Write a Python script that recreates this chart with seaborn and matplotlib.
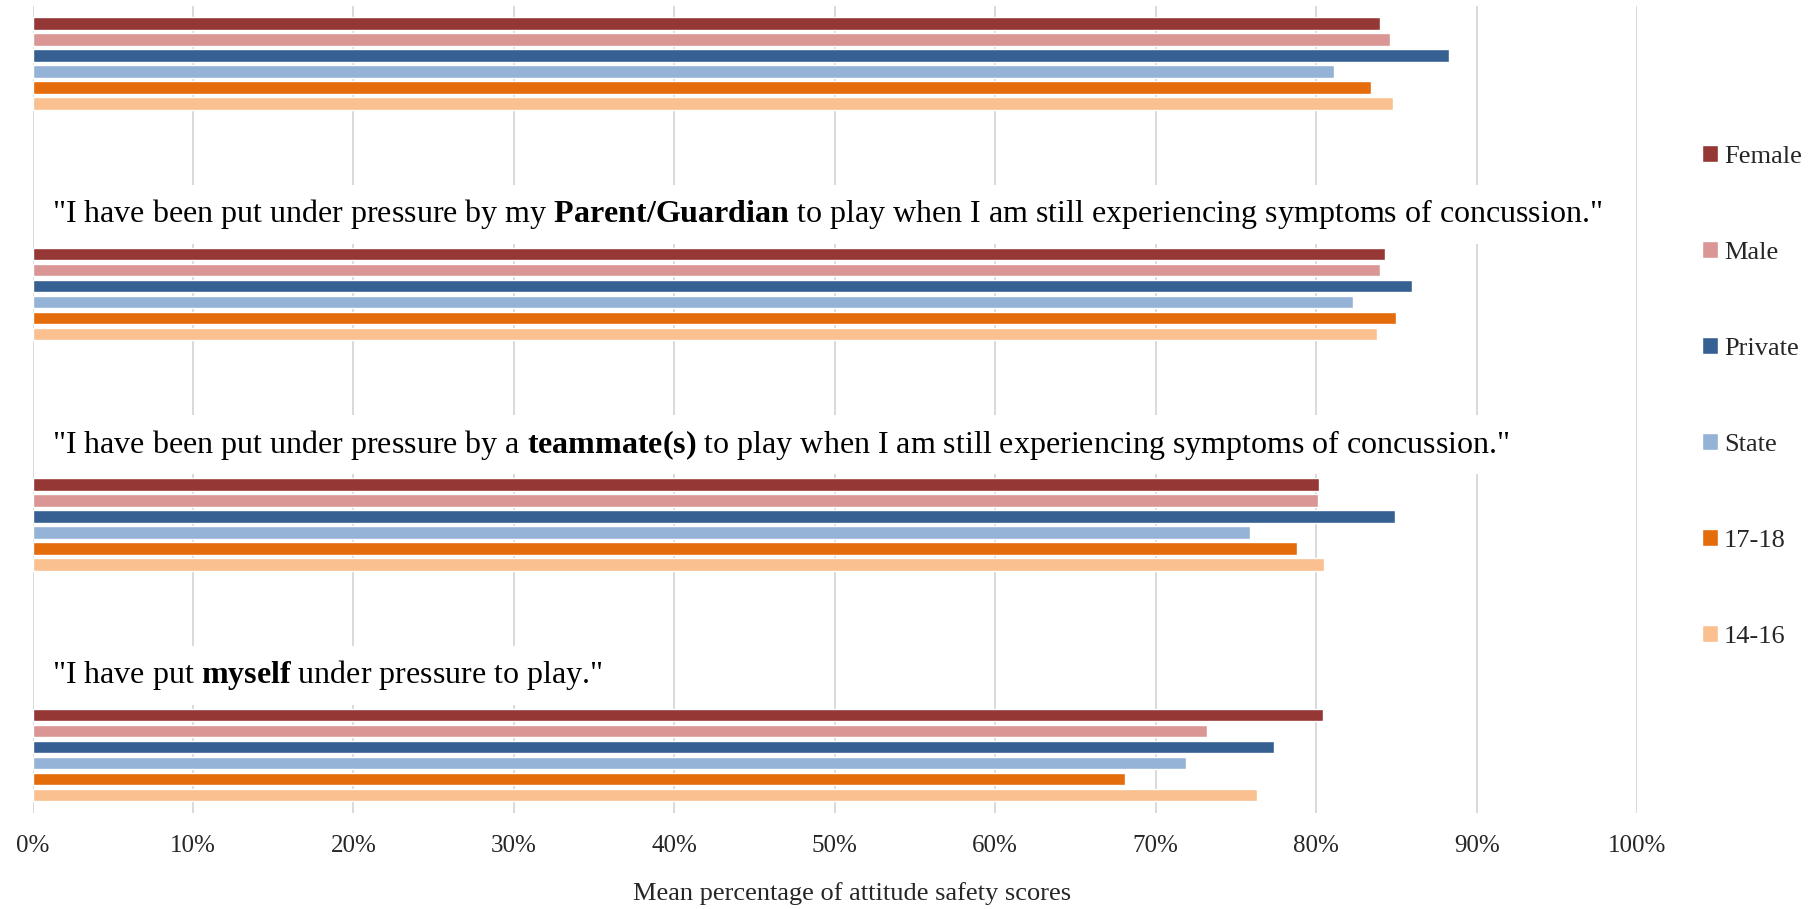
import pandas as pd
import seaborn as sns
import matplotlib.pyplot as plt
from matplotlib.ticker import PercentFormatter

# Data (mean percentage, 0-1 scale)
questions = ['Q1', 'Q2', 'Q3', 'Q4']
question_labels = [
    None,  # title of the top panel is cut off in the original
    r'"I have been put under pressure by my $\mathbf{Parent/Guardian}$ to play when I am still experiencing symptoms of concussion."',
    r'"I have been put under pressure by a $\mathbf{teammate(s)}$ to play when I am still experiencing symptoms of concussion."',
    r'"I have put $\mathbf{myself}$ under pressure to play."',
]
groups = ['Female', 'Male', 'Private', 'State', '17-18', '14-16']
colors = ['#953735', '#D99694', '#366092', '#95B3D7', '#E46C0A', '#FAC090']

female = [0.840, 0.843, 0.802, 0.804]
male = [0.846, 0.840, 0.801, 0.732]
private = [0.883, 0.860, 0.849, 0.774]
state = [0.811, 0.823, 0.759, 0.719]
age_17_18 = [0.834, 0.850, 0.788, 0.681]
age_14_16 = [0.848, 0.838, 0.805, 0.763]

series = [female, male, private, state, age_17_18, age_14_16]
rows = []
for g, vals in zip(groups, series):
    for q, v in zip(questions, vals):
        rows.append({'question': q, 'group': g, 'value': v})
df = pd.DataFrame(rows)

sns.set_style('white')
plt.rcParams['font.family'] = ['Liberation Serif', 'DejaVu Serif']
plt.rcParams['mathtext.fontset'] = 'custom'
plt.rcParams['mathtext.rm'] = 'Liberation Serif'
plt.rcParams['mathtext.bf'] = 'Liberation Serif:bold'

fig = plt.figure(figsize=(18.18, 9.09), dpi=100)
ax = fig.add_axes([0.0179, 0.106, 0.8826, 0.8874])

sns.barplot(data=df, x='value', y='question', hue='group', orient='h',
            order=questions, hue_order=groups, palette=colors,
            saturation=1, width=0.4165, gap=0.2, errorbar=None, ax=ax)

ax.set_xlim(0, 1.0)
ax.set_ylim(3.25, -0.25)
ax.set_xticks([i / 10 for i in range(11)])
ax.xaxis.set_major_formatter(PercentFormatter(1.0, decimals=0))
ax.tick_params(axis='x', length=0, pad=16, labelsize=18)
ax.set_yticks([])
ax.set_ylabel('')
ax.set_xlabel('Mean percentage of attitude safety scores', fontsize=19,
              labelpad=18, x=0.511)
for s in ax.spines.values():
    s.set_visible(False)
ax.grid(axis='x', color='#D9D9D9', lw=1.4)
ax.set_axisbelow(True)

# question titles above each block of bars
for i, lab in enumerate(question_labels):
    if lab is None:
        continue
    ax.text(0.012, i - 0.347, lab, fontsize=23, va='center', ha='left',
            color='black', zorder=5,
            bbox=dict(facecolor='white', edgecolor='none', pad=9))

handles, labels = ax.get_legend_handles_labels()
ax.legend_.remove()
fig.legend(handles, labels, loc='center left', bbox_to_anchor=(0.936, 0.564),
           frameon=False, fontsize=19, labelspacing=2.77, handlelength=0.62,
           handleheight=0.62, handletextpad=0.22, borderpad=0, borderaxespad=0)

fig.savefig('out.png', dpi=100)
